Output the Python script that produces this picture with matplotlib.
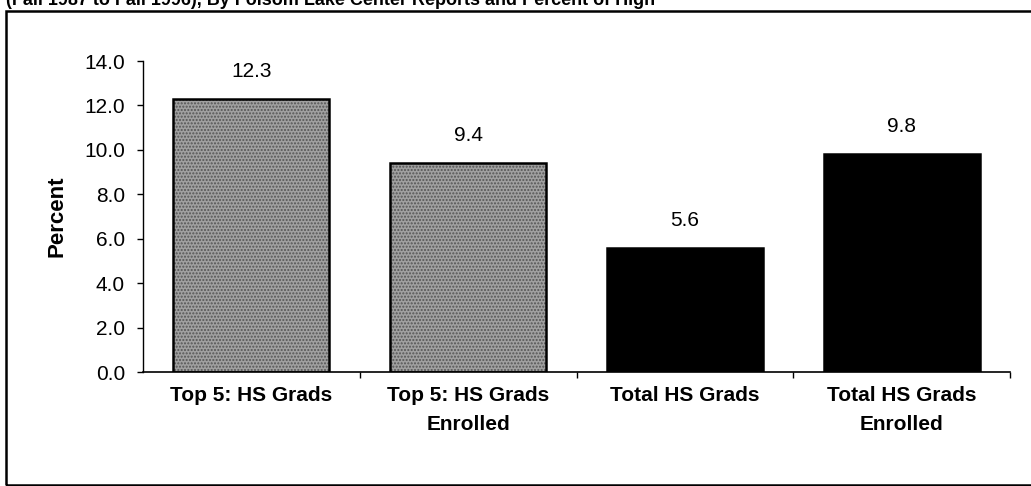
import matplotlib
matplotlib.use('Agg')
import matplotlib.pyplot as plt
from matplotlib.patches import Rectangle

plt.rcParams['font.family'] = ['Liberation Sans', 'DejaVu Sans']

categories = ['Top 5: HS Grads', 'Top 5: HS Grads\nEnrolled', 'Total HS Grads', 'Total HS Grads\nEnrolled']
values = [12.3, 9.4, 5.6, 9.8]
bar_colors = ['#a0a0a0', '#a0a0a0', '#000000', '#000000']
bar_hatches = ['.....', '.....', '', '']
yticks = [0, 2, 4, 6, 8, 10, 12, 14]
title_text = '(Fall 1987 to Fall 1996), By Folsom Lake Center Reports and Percent of High'

fig = plt.figure(figsize=(10.31, 4.86), dpi=100)
ax = fig.add_axes([143 / 1031, 1 - 372 / 486, 867 / 1031, 311 / 486])

x = list(range(len(categories)))
# stippled fill, then a plain outline on top
fills = ax.bar(x, values, width=0.72, color=bar_colors, edgecolor='#555555', linewidth=0, zorder=2)
for b, h in zip(fills, bar_hatches):
    b.set_hatch(h)
ax.bar(x, values, width=0.72, fill=False, edgecolor='black', linewidth=1.8, zorder=3)

for xi, v in zip(x, values):
    ax.annotate(f'{v:.1f}', (xi, v), xytext=(0, 13), textcoords='offset points',
                ha='center', va='bottom', fontsize=15)

ax.set_xlim(-0.5, len(categories) - 0.5)
ax.set_ylim(0, 14)
ax.set_yticks(yticks)
ax.set_yticklabels([f'{t:.1f}' for t in yticks], fontsize=15)
ax.set_xticks(x)
ax.set_xticklabels(categories, fontsize=15, fontweight='bold', linespacing=1.7)
ax.set_xticks([i + 0.5 for i in x[:-1]] + [len(categories) - 0.5], minor=True)
ax.tick_params(axis='x', which='major', length=0, pad=10)
ax.tick_params(axis='x', which='minor', length=4, direction='out', width=1)
ax.tick_params(axis='y', length=4, width=1, pad=9)
ax.set_ylabel('Percent', fontsize=16, fontweight='bold', labelpad=12)

ax.spines['top'].set_visible(False)
ax.spines['right'].set_visible(False)
ax.spines['left'].set_linestyle((0, (4, 1)))
ax.spines['left'].set_linewidth(1)
ax.spines['bottom'].set_linewidth(1.2)

# outer frame around the chart
fig.patches.append(Rectangle((6 / 1031, 1 / 486), 1.1, 1 - 11 / 486 - 1 / 486,
                             transform=fig.transFigure, fill=False,
                             edgecolor='black', linewidth=1.8))

# clipped caption from the page above
fig.text(6 / 1031, 1 - 5 / 486, title_text, fontsize=13, fontweight='bold',
         ha='left', va='baseline')

fig.savefig('out.png', dpi=100)
